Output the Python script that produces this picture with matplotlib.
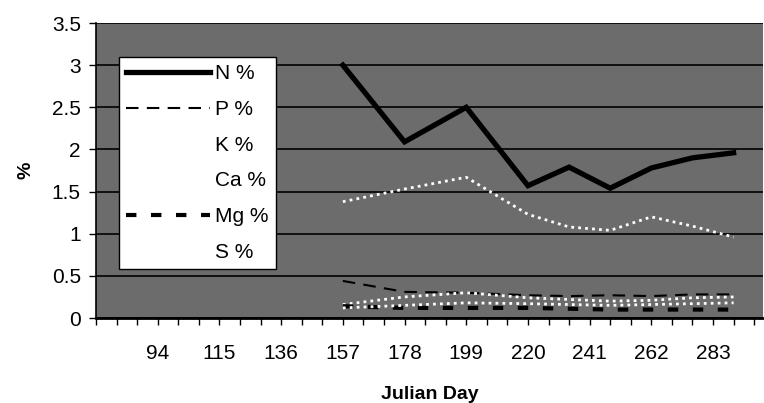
import matplotlib
matplotlib.use("Agg")
import matplotlib.pyplot as plt
from matplotlib.ticker import FuncFormatter, MultipleLocator

plt.rcParams['font.family'] = ['Liberation Sans', 'DejaVu Sans']

# sampling days (Julian day) and nutrient concentrations (%)
days = [157, 178, 199, 220, 234, 248, 262, 276, 290]
n_pct = [3.00, 2.09, 2.50, 1.57, 1.79, 1.54, 1.78, 1.90, 1.96]
p_pct = [0.44, 0.31, 0.30, 0.27, 0.26, 0.27, 0.26, 0.28, 0.28]
k_pct = [1.38, 1.53, 1.67, 1.23, 1.08, 1.04, 1.20, 1.09, 0.96]
ca_pct = [0.16, 0.25, 0.30, 0.24, 0.22, 0.20, 0.21, 0.24, 0.25]
mg_pct = [0.14, 0.12, 0.12, 0.12, 0.11, 0.10, 0.10, 0.10, 0.10]
s_pct = [0.12, 0.15, 0.18, 0.17, 0.16, 0.15, 0.16, 0.17, 0.18]

tick_days = list(range(73, 300, 7))
label_days = [94, 115, 136, 157, 178, 199, 220, 241, 262, 283]

fig = plt.figure(figsize=(7.64, 4.03), dpi=100)
ax = fig.add_axes([0.1257, 0.2109, 0.873, 0.732])
ax.set_facecolor('#6c6c6c')

ax.plot(days, n_pct, color='black', lw=3.8, solid_joinstyle='miter', label='N %')
ax.plot(days, p_pct, color='black', lw=1.5, dashes=(6, 4), label='P %')
ax.plot(days, k_pct, color='white', lw=2, ls=(0, (1, 1.5)), label='K %')
ax.plot(days, ca_pct, color='white', lw=2, ls=(0, (1, 1.5)), label='Ca %')
ax.plot(days, mg_pct, color='black', lw=3, dashes=(2.5, 3.5), label='Mg %')
ax.plot(days, s_pct, color='white', lw=2, ls=(0, (1, 1.5)), label='S %')

ax.set_xlim(73, 300)
ax.set_ylim(0, 3.5)
ax.set_xticks(tick_days)
ax.set_xticklabels([str(d) if d in label_days else '' for d in tick_days])
ax.yaxis.set_major_locator(MultipleLocator(0.5))
ax.yaxis.set_major_formatter(FuncFormatter(lambda v, p: ('%g' % v)))
ax.grid(axis='y', color='black', lw=1.2)
ax.set_axisbelow(True)

for s in ['top', 'right']:
    ax.spines[s].set_visible(False)
ax.spines['left'].set_linewidth(1.2)
ax.spines['bottom'].set_linewidth(2)
ax.tick_params(axis='x', direction='out', length=5, width=1, pad=14, labelsize=15)
ax.tick_params(axis='y', direction='out', length=5, width=1, pad=6, labelsize=15)

ax.set_xlabel('Julian Day', fontsize=14, fontweight='bold', labelpad=16)
ax.set_ylabel('%', fontsize=14, fontweight='bold', labelpad=12)

leg = ax.legend(loc='upper left', bbox_to_anchor=(0.0345, 0.885), fontsize=15,
                frameon=True, fancybox=False, framealpha=1, edgecolor='black',
                handlelength=4.0, handletextpad=0.25, labelspacing=0.8,
                borderaxespad=0, borderpad=0.35)
leg.get_frame().set_linewidth(1)

fig.savefig('out.png', dpi=100)
